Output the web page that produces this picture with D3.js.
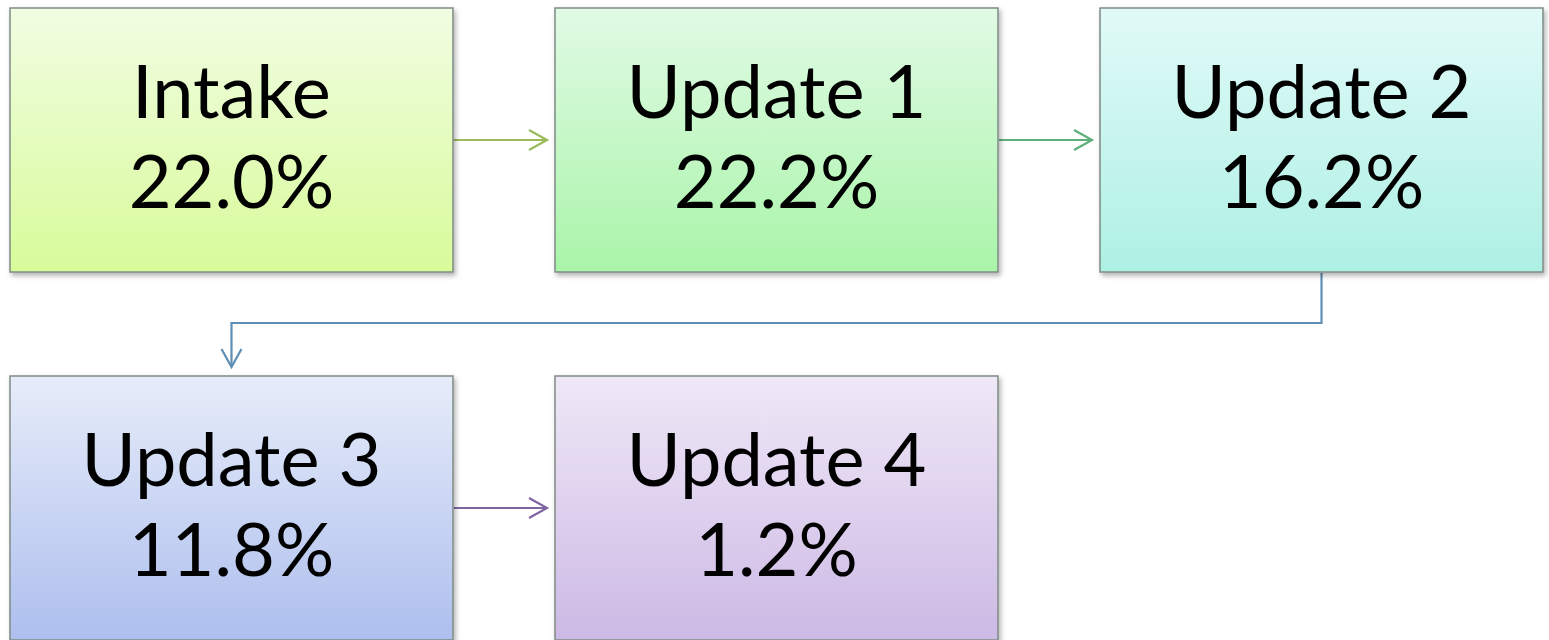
<!DOCTYPE html>
<html>
<head>
<meta charset="utf-8">
<script src="https://cdn.jsdelivr.net/npm/d3@7"></script>
<style>
  body { margin: 0; background: #fff; overflow: hidden; }
  text { font-family: Lato, Carlito, "Open Sans", sans-serif; }
</style>
</head>
<body>
<div id="chartbox"></div>
<script>
const stages = ['Intake', 'Update 1', 'Update 2', 'Update 3', 'Update 4']
const shares = [22.0, 22.2, 16.2, 11.8, 1.2]
const topColors = ['#f1fde2', '#e1fbe5', '#e1faf8', '#e6ecf9', '#efe8f7']
const bottomColors = ['#d8fb9a', '#a9f4a9', '#aef0e4', '#aebfee', '#cdb9e5']
const arrowColors = ['#9bbb59', '#5fae7c', '#5f8fb4', '#8064a2']

const width = 1549, height = 640

const svg = d3.select('#chartbox')
  .append('svg')
  .attr('width', width)
  .attr('height', height)

const defs = svg.append('defs')

const shadow = defs.append('filter')
  .attr('id', 'shadow')
  .attr('x', '-5%').attr('y', '-5%')
  .attr('width', '110%').attr('height', '115%')
shadow.append('feDropShadow')
  .attr('dx', 2).attr('dy', 3)
  .attr('stdDeviation', 2.5)
  .attr('flood-color', '#000')
  .attr('flood-opacity', 0.3)

stages.forEach((s, i) => {
  const g = defs.append('linearGradient')
    .attr('id', 'grad' + i)
    .attr('x1', 0).attr('y1', 0).attr('x2', 0).attr('y2', 1)
  g.append('stop').attr('offset', '0%').attr('stop-color', topColors[i])
  g.append('stop').attr('offset', '100%').attr('stop-color', bottomColors[i])
})

const x = d3.scaleBand()
  .domain([0, 1, 2])
  .range([10, 1543])
  .paddingInner(0.1872)

const y = d3.scaleBand()
  .domain([0, 1])
  .range([8, 640])
  .paddingInner(0.2826)

const col = i => i % 3
const row = i => Math.floor(i / 3)

// connectors
const line = d3.line()
const links = d3.range(stages.length - 1).map(i => {
  const a = i, b = i + 1
  if (row(a) === row(b)) {
    const cy = y(row(a)) + y.bandwidth() / 2
    const x0 = x(col(a)) + x.bandwidth() + 1
    const x1 = x(col(b)) - 8
    return { color: arrowColors[i], pts: [[x0, cy], [x1, cy]], tip: [x1, cy], dir: 'right' }
  }
  const sx = x(col(a)) + x.bandwidth() / 2
  const sy = y(row(a)) + y.bandwidth() + 1
  const ex = x(col(b)) + x.bandwidth() / 2
  const ey = y(row(b)) - 9
  const my = (sy + ey) / 2 + 3
  return { color: arrowColors[i], pts: [[sx, sy], [sx, my], [ex, my], [ex, ey]], tip: [ex, ey], dir: 'down' }
})

const lg = svg.append('g').attr('fill', 'none').attr('stroke-width', 2.2)
links.forEach(l => {
  lg.append('path').attr('d', line(l.pts)).attr('stroke', l.color)
  const [tx, ty] = l.tip
  const head = l.dir === 'right'
    ? [[tx - 18, ty - 10], [tx, ty], [tx - 18, ty + 10]]
    : [[tx - 10, ty - 18], [tx, ty], [tx + 10, ty - 18]]
  lg.append('path').attr('d', line(head)).attr('stroke', l.color)
    .attr('stroke-linejoin', 'miter')
})

// boxes
const cells = svg.selectAll('g.cell')
  .data(stages)
  .enter()
  .append('g')
  .attr('class', 'cell')
  .attr('transform', (d, i) => 'translate(' + x(col(i)) + ',' + y(row(i)) + ')')

cells.append('rect')
  .attr('width', x.bandwidth())
  .attr('height', y.bandwidth())
  .attr('fill', (d, i) => 'url(#grad' + i + ')')
  .attr('stroke', '#7f8c86')
  .attr('stroke-width', 1.5)
  .attr('filter', 'url(#shadow)')

const label = cells.append('text')
  .attr('text-anchor', 'middle')
  .attr('fill', '#000')
  .attr('font-size', 74)

label.append('tspan')
  .attr('x', x.bandwidth() / 2)
  .attr('y', 110)
  .text(d => d)

label.append('tspan')
  .attr('x', x.bandwidth() / 2)
  .attr('y', 200)
  .text((d, i) => d3.format('.1f')(shares[i]) + '%')
</script>
</body>
</html>
